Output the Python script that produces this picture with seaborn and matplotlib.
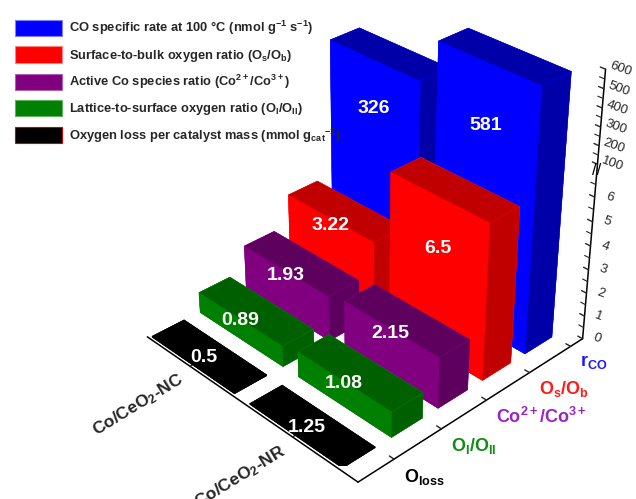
import matplotlib
matplotlib.use("Agg")
import numpy as np
import matplotlib.pyplot as plt
import seaborn as sns
from matplotlib.patches import Patch

# ---------------- data ----------------
catalysts = ["Co/CeO$_2$-NR", "Co/CeO$_2$-NC"]
metrics = ["O$_{loss}$", "O$_I$/O$_{II}$", "Co$^{2+}$/Co$^{3+}$", "O$_s$/O$_b$", "r$_{CO}$"]
nr_values = [1.25, 1.08, 2.15, 6.5, 581]
nc_values = [0.5, 0.89, 1.93, 3.22, 326]
nr_labels = ["1.25", "1.08", "2.15", "6.5", "581"]
nc_labels = ["0.5", "0.89", "1.93", "3.22", "326"]
legend_labels = [
    "CO specific rate at 100 °C (nmol g$^{-1}$ s$^{-1}$)",
    "Surface-to-bulk oxygen ratio (O$_s$/O$_b$)",
    "Active Co species ratio (Co$^{2+}$/Co$^{3+}$)",
    "Lattice-to-surface oxygen ratio (O$_I$/O$_{II}$)",
    "Oxygen loss per catalyst mass (mmol g$_{cat}$$^{-1}$)",
]
low_ticks = [0, 1, 2, 3, 4, 5, 6]
high_ticks = [100, 200, 300, 400, 500, 600]
low_minor = [0.5, 1.5, 2.5, 3.5, 4.5, 5.5, 6.5]
high_minor = [150, 250, 350, 450, 550]
flat_metric = "O$_{loss}$"   # drawn as flat tiles in the original

# ---------------- style ----------------
sns.set_theme(style="white")
plt.rcParams["font.family"] = ["Liberation Sans", "DejaVu Sans"]
plt.rcParams["mathtext.fontset"] = "custom"
plt.rcParams["mathtext.rm"] = "Liberation Sans:bold"
plt.rcParams["mathtext.it"] = "Liberation Sans:bold"
plt.rcParams["mathtext.bf"] = "Liberation Sans:bold"

bar_colors = ["#000000", "#008000", "#800080", "#FF0000", "#0000FF"]
dark_colors = ["#000000", "#006000", "#5E005E", "#C00000", "#0000A8"]
tick_colors = ["#000000", "#138A13", "#9A22C9", "#FF1A1A", "#1A1AFF"]
legend_colors = ["#0000FF", "#FF0000", "#800080", "#008000", "#000000"]
legend_edges = ["#8080FF", "#FF8080", "#B060B0", "#60B060", "#D00000"]

LOW_TOP = 6.5
GAP = 0.8
HIGH_SPAN = 3.6


def zmap(v):
    v = np.asarray(v, dtype=float)
    return np.where(v <= LOW_TOP, v, LOW_TOP + GAP + (v - 100.0) / 500.0 * HIGH_SPAN)


fig = plt.figure(figsize=(6.36, 4.99), dpi=100)
ax = fig.add_axes([0.063, 0.066, 1.0, 1.0], projection="3d")
ax.set_proj_type("persp", focal_length=0.61)
ax.view_init(elev=31.5, azim=-134)
ax.computed_zorder = False

xlim = (-0.73, 4.3)
ylim = (-0.58, 1.45)
zlim = (0, float(zmap(600)))
ax.set_xlim(*xlim)
ax.set_ylim(*ylim)
ax.set_zlim(*zlim)
ax.set_box_aspect((347, 340, 335), zoom=1.08)

# bars sit just before each metric tick (tick marks the bar's right edge)
dx, dy = 0.66, 0.85
x_off = -0.02
rows = [nr_values, nc_values]
row_labels = [nr_labels, nc_labels]
bars = []
for yi, vals in enumerate(rows):
    for xi, v in enumerate(vals):
        h = 0.04 if metrics[xi] == flat_metric else float(zmap(v))
        bars.append((xi, yi, h, row_labels[yi][xi]))

# painter's order: farthest first (viewer at -x,-y)
bars.sort(key=lambda b: -(b[0] + b[1]))
for k, (xi, yi, h, lab) in enumerate(bars):
    bright, dark = bar_colors[xi], dark_colors[xi]
    face_cols = [dark, dark, dark, dark, bright, dark]  # -z,+z,-y,+y,-x,+x
    ax.bar3d(xi + x_off - dx, yi - dy / 2, 0, dx, dy, h, color=face_cols,
             shade=False, edgecolor=bright, linewidth=0.3, zorder=10 + k)

for (xi, yi, h, lab) in bars:
    x0 = xi + x_off - dx
    if h < 0.1:
        pos = (x0 + dx * 0.35, yi, 0.05)
    elif h > 7:
        pos = (x0, yi, h * 0.78)
    elif h > 5:
        pos = (x0, yi, h * 0.68)
    else:
        pos = (x0, yi, h * 0.9)
    ax.text(*pos, lab, color="white", fontsize=14, fontweight="bold",
            ha="center", va="center", zorder=1000)

# axes styling
for axis in (ax.xaxis, ax.yaxis, ax.zaxis):
    axis.set_pane_color((1, 1, 1, 0))
    axis.pane.set_edgecolor((1, 1, 1, 0))
    axis.line.set_color("black")
    axis.line.set_linewidth(1.1)
    axis._axinfo["tick"]["inward_factor"] = 0.0
    axis._axinfo["tick"]["outward_factor"] = 0.25
    axis._axinfo["tick"]["linewidth"] = {True: 1.0, False: 0.8}
    axis._axinfo["tick"]["color"] = "black"
ax.grid(False)

ax.zaxis.set_ticks_position("lower")
ax.zaxis.set_label_position("lower")

ax.set_xticks(range(len(metrics)))
ax.set_xticklabels(metrics, fontsize=13, fontweight="bold")
for t, c in zip(ax.get_xticklabels(), tick_colors):
    t.set_color(c)
    t.set_ha("left")
    t.set_va("center")

ax.set_yticks(range(len(catalysts)))
ax.set_yticklabels(catalysts, fontsize=12.5, fontweight="bold")
for t in ax.get_yticklabels():
    t.set_rotation(31.5)
    t.set_rotation_mode("anchor")
    t.set_ha("right")
    t.set_va("center")

zt = list(zmap(low_ticks)) + list(zmap(high_ticks))
ax.set_zticks(zt)
ax.set_zticklabels([str(v) for v in low_ticks + high_ticks], fontsize=9.5)
ax.set_zticks(list(zmap(low_minor)) + list(zmap(high_minor)), minor=True)
for t in ax.get_zticklabels():
    t.set_rotation(-20)
    t.set_ha("center")
    t.set_va("center")

ax.tick_params(axis="x", pad=0)
ax.tick_params(axis="y", pad=-2)
ax.tick_params(axis="z", pad=-2)

# axis break mark
zb = LOW_TOP + GAP - 0.25
ax.text(xlim[1], ylim[0], zb, "//", fontsize=12, ha="center", va="center",
        color="black", zorder=1000)

handles = [Patch(facecolor=c, edgecolor=e, linewidth=0.8)
           for c, e in zip(legend_colors, legend_edges)]
fig.legend(handles, legend_labels, loc="upper left", bbox_to_anchor=(0.015, 0.972),
           frameon=False, handlelength=3.7, handleheight=1.55, labelspacing=0.7,
           handletextpad=0.5, borderaxespad=0.0,
           prop={"weight": "bold", "size": 9.3, "family": "Liberation Sans"})

fig.savefig("out.png", dpi=100)
